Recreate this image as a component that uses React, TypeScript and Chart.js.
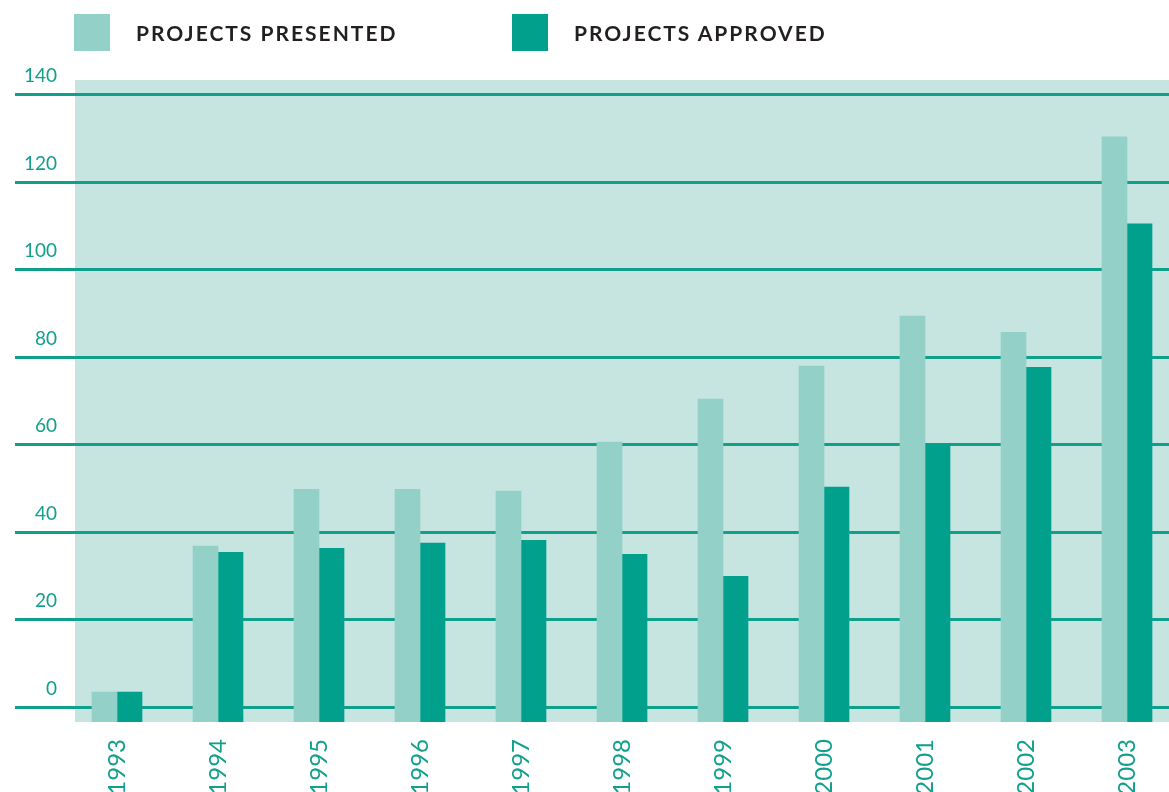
import React, { useEffect, useRef } from "react";
import { Chart, registerables } from "chart.js";

Chart.register(...registerables);

const years = ["1993", "1994", "1995", "1996", "1997", "1998", "1999", "2000", "2001", "2002", "2003"];
const presented = [3.4, 36.8, 49.8, 49.8, 49.4, 60.6, 70.4, 78, 89.4, 85.7, 130.4];
const approved = [3.4, 35.4, 36.3, 37.5, 38.1, 34.9, 29.9, 50.3, 60.1, 77.7, 110.5];
const yTicks = [0, 20, 40, 60, 80, 100, 120, 140];
const yMin = -3.43;
const yMax = 143.4;

const seriesNames = ["PROJECTS PRESENTED", "PROJECTS APPROVED"];
const seriesColors = ["#93d0c8", "#00a08c"];
const panelColor = "#c6e5e1";
const gridColor = "#0fa08c";
const tickColor = "#12a08c";

const panelPlugin = {
  id: "panel",
  beforeDraw(chart: any) {
    const { ctx, chartArea } = chart;
    ctx.save();
    ctx.fillStyle = panelColor;
    const inset = 8.5;
    ctx.fillRect(chartArea.left + inset, chartArea.top, chartArea.right - chartArea.left - inset, chartArea.bottom - chartArea.top);
    ctx.restore();
  },
};

export default function App() {
  const ref = useRef<HTMLCanvasElement | null>(null);

  useEffect(() => {
    if (!ref.current) return;
    const chart = new Chart(ref.current, {
      type: "bar",
      data: {
        labels: years,
        datasets: [
          { label: seriesNames[0], data: presented, backgroundColor: seriesColors[0], base: yMin, barThickness: 25 } as any,
          { label: seriesNames[1], data: approved, backgroundColor: seriesColors[1], base: yMin, barThickness: 25 } as any,
        ],
      },
      options: {
        animation: false,
        responsive: true,
        maintainAspectRatio: false,
        layout: { padding: { top: 80, left: 18, right: 22.5, bottom: 0 } },
        plugins: { legend: { display: false }, tooltip: { enabled: false } },
        scales: {
          x: {
            grid: { display: false, drawTicks: false },
            border: { display: false },
            ticks: {
              minRotation: 90,
              maxRotation: 90,
              padding: 17,
              color: tickColor,
              font: { family: "Lato", size: 24, weight: "normal" },
            },
            afterFit(scale: any) {
              scale.height = 70;
            },
          },
          y: {
            min: yMin,
            max: yMax,
            afterBuildTicks(scale: any) {
              scale.ticks = yTicks.map((v) => ({ value: v }));
            },
            grid: { color: gridColor, lineWidth: 3, drawTicks: true, tickLength: 51.5 },
            border: { display: false },
            ticks: {
              padding: -42,
              labelOffset: -18.5,
              color: tickColor,
              font: { family: "Lato", size: 19, weight: "normal" },
            },
            afterFit(scale: any) {
              scale.width = 48.5;
            },
          },
        },
      },
      plugins: [panelPlugin],
    });
    return () => chart.destroy();
  }, []);

  const legendItem = (i: number, left: number) => (
    <div key={i} style={{ position: "absolute", left, top: 14, height: 37, display: "flex", alignItems: "center" }}>
      <div style={{ width: 36, height: 37, background: seriesColors[i] }} />
      <span
        style={{
          marginLeft: 26,
          fontFamily: "Lato",
          fontWeight: 700,
          fontSize: 21,
          letterSpacing: "2px",
          color: "#231f20",
        }}
      >
        {seriesNames[i]}
      </span>
    </div>
  );

  return (
    <div style={{ position: "fixed", left: 0, top: 0, width: 1169, height: 792, overflow: "hidden", background: "#fff" }}>
      <div style={{ position: "absolute", left: 0, top: 0, width: 1200, height: 792 }}>
        <canvas ref={ref} />
      </div>
      {legendItem(0, 74)}
      {legendItem(1, 512)}
    </div>
  );
}
